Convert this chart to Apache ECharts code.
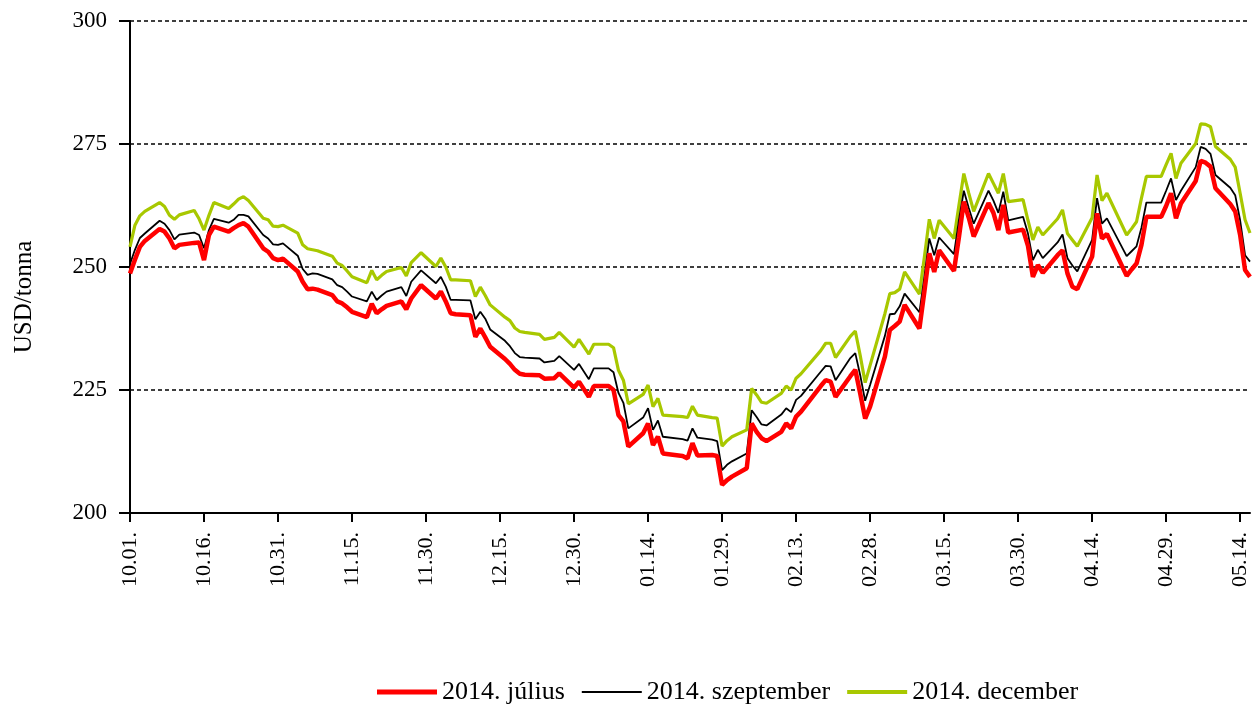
<!DOCTYPE html>
<html>
<head>
<meta charset="utf-8">
<script src="https://cdn.jsdelivr.net/npm/echarts@6/dist/echarts.min.js"></script>
<style>
  html, body { margin: 0; padding: 0; background: #fff; }
  #chart { width: 1252px; height: 704px; }
</style>
</head>
<body>
<div id="chart"></div>
<script>
const startDay = [2013, 9, 1]
const endDay = [2014, 4, 16]

const seriesNames = ['2014. július', '2014. szeptember', '2014. december']

// one value per weekday (Mon-Fri), null = exchange holiday
const julius = [
  248.7, 251.5, 254.1, 255.3,
  257.7, 257.2, 255.8, 253.8, 254.5,
  254.9, 255.0, 251.4, 256.5, 258.2,
  257.2, 257.9, 258.5, 258.9, 258.2,
  253.8, 253.1, 251.8, 251.4, 251.7,
  249.1, 247.0, 245.5, 245.6, 245.4,
  244.3, 243.0, 242.6, 241.8, 240.9,
  239.8, 242.5, 240.6, 241.4, 242.1,
  243.0, 241.4, 243.6, null, 246.3,
  243.6, 245.0, 243.0, 240.6, 240.4,
  240.2, 235.8, 237.5, 235.7, 233.8,
  231.3, 230.3, 229.1, 228.3, 228.1,
  228.0, 227.3, null, 227.4, 228.4,
  225.5, 226.7, null, 223.6, 225.8,
  225.8, 225.0, 219.9, 218.6, 213.5,
  216.2, 218.2, 213.8, 215.5, 212.1,
  null, 211.6, 211.1, 214.2, 211.7,
  211.8, 211.6, 205.7, 206.7, 207.4,
  209.1, 218.2, 216.5, 215.2, 214.6,
  216.5, 218.2, 217.2, 219.6, 220.6,
  null, 225.8, 227.0, 226.7, 223.6,
  227.8, 229.1, 224.3, 219.2, 221.6,
  231.8, 237.2, 238.0, 238.9, 242.3,
  237.5, 245.0, 252.8, 249.0, 253.4,
  249.2, 256.0, 263.3, 260.0, 256.2,
  263.0, 261.0, 257.5, 262.6, 257.0,
  257.6, 254.3, 248.0, 250.4, 248.8,
  252.4, 253.4, 248.7, 246.0, 245.5,
  252.1, 260.9, 255.8, 256.7, null,
  248.2, 249.5, 250.7, 254.5, 260.2,
  260.2, 262.4, 265.0, 259.9, 262.9,
  267.5, 271.6, 271.2, 270.4, 266.0,
  262.8, 261.3, 256.5, 249.4, 248.0
]

const szeptember = [
  250.6, 253.5, 255.9, 256.8,
  259.4, 258.8, 257.5, 255.6, 256.6,
  257.0, 256.5, 253.8, 257.5, 259.8,
  259.0, 259.6, 260.6, 260.6, 260.3,
  256.5, 255.8, 254.6, 254.5, 254.8,
  252.3, 249.6, 248.4, 248.7, 248.6,
  247.5, 246.3, 245.9, 245.0, 244.0,
  243.0, 245.0, 243.3, 244.2, 245.0,
  245.9, 244.1, 247.0, null, 249.3,
  246.7, 248.0, 246.0, 243.3, 243.3,
  243.2, 239.4, 240.9, 239.5, 237.3,
  235.0, 233.9, 232.5, 231.7, 231.6,
  231.4, 230.6, null, 230.9, 231.9,
  229.1, 230.3, null, 227.2, 229.4,
  229.4, 228.6, 224.4, 222.4, 217.2,
  219.4, 221.3, 216.9, 218.8, 215.5,
  null, 215.0, 214.7, 217.2, 215.3,
  214.9, 214.6, 208.7, 209.8, 210.5,
  212.1, 220.9, 219.5, 218.0, 217.8,
  220.0, 221.3, 220.5, 223.0, 223.8,
  null, 228.7, 229.9, 229.8, 227.0,
  231.5, 232.5, 228.0, 222.8, 226.0,
  236.0, 240.4, 240.5, 242.0, 244.6,
  240.8, 248.0, 255.8, 252.4, 256.0,
  252.6, 259.5, 265.5, 262.0, 258.8,
  265.5, 263.5, 261.0, 265.3, 259.5,
  260.2, 256.8, 251.4, 253.5, 251.8,
  255.0, 256.6, 251.8, 250.3, 249.1,
  255.5, 264.0, 258.8, 259.9, null,
  252.2, 253.2, 254.2, 258.0, 263.1,
  263.1, 265.5, 268.0, 263.6, 265.5,
  270.3, 274.4, 274.0, 273.0, 268.7,
  266.1, 264.6, 259.5, 252.4, 251.1
]

const december = [
  254.1, 258.5, 260.4, 261.3,
  263.1, 262.3, 260.5, 259.7, 260.6,
  261.5, 259.8, 257.5, 260.5, 263.1,
  261.9, 262.8, 263.8, 264.3, 263.5,
  259.9, 259.6, 258.3, 258.2, 258.5,
  256.9, 254.5, 253.7, 253.5, 253.3,
  252.2, 250.8, 250.3, 249.2, 248.0,
  246.8, 249.3, 247.4, 248.3, 249.1,
  249.9, 248.2, 250.9, null, 252.9,
  250.1, 251.8, 250.0, 247.4, 247.4,
  247.2, 244.0, 245.9, 244.2, 242.3,
  239.8, 239.1, 237.6, 236.9, 236.7,
  236.3, 235.3, null, 235.7, 236.7,
  233.7, 235.3, null, 232.3, 234.3,
  234.3, 233.6, 229.0, 227.0, 222.2,
  224.1, 226.0, 221.6, 223.3, 219.9,
  null, 219.6, 219.4, 221.7, 219.9,
  219.4, 219.3, 213.6, 214.7, 215.5,
  216.9, 225.3, 224.0, 222.5, 222.3,
  224.3, 225.8, 225.0, 227.4, 228.3,
  null, 233.0, 234.5, 234.5, 231.6,
  235.9, 237.0, 232.0, 226.5, 230.0,
  240.5, 244.6, 244.8, 245.5, 249.0,
  244.5, 252.0, 259.7, 255.8, 259.5,
  255.8, 262.5, 269.0, 265.0, 261.3,
  269.0, 267.0, 265.0, 269.0, 263.3,
  263.7, 259.5, 255.5, 258.1, 256.5,
  259.8, 261.6, 256.8, 255.5, 254.2,
  260.0, 268.7, 263.5, 265.0, null,
  256.5, 257.8, 259.2, 264.0, 268.4,
  268.4, 270.8, 273.1, 268.0, 271.1,
  275.1, 279.1, 279.0, 278.5, 274.5,
  271.9, 270.3, 265.0, 259.6, 256.9
]

const yMin = 200
const yMax = 300
const yStep = 25
const labelEvery = 15

const font = '"Liberation Serif", "Times New Roman", serif'
const colors = ['#ff0000', '#000000', '#a8c800']
const widths = [4.5, 1.8, 3.2]

// calendar days on the x axis, weekends left empty
const days = []
const isWeekday = []
let t = Date.UTC(startDay[0], startDay[1], startDay[2])
const tEnd = Date.UTC(endDay[0], endDay[1], endDay[2])
while (t <= tEnd) {
  const d = new Date(t)
  const mm = String(d.getUTCMonth() + 1).padStart(2, '0')
  const dd = String(d.getUTCDate()).padStart(2, '0')
  days.push(mm + '.' + dd + '.')
  const wd = d.getUTCDay()
  isWeekday.push(wd !== 0 && wd !== 6)
  t += 86400000
}

function spread (values) {
  const out = []
  let k = 0
  for (let i = 0; i < days.length; i++) {
    out.push(isWeekday[i] ? values[k++] : null)
  }
  return out
}

// plain line icons in the legend, thickness like the series
const legendIcons = [
  'path://M0,0H60V5H0Z',
  'path://M0,0H60V2H0Z',
  'path://M0,0H60V4H0Z'
]

const myChart = echarts.init(document.getElementById('chart'))
const option = {
  animation: false,
  backgroundColor: '#fff',
  color: colors,
  grid: {
    left: 130,
    right: 2,
    top: 21,
    bottom: 191,
    containLabel: false
  },
  legend: {
    left: 372,
    top: 674,
    itemWidth: 60,
    itemHeight: 14,
    itemGap: 17,
    symbolKeepAspect: true,
    textStyle: { fontFamily: font, fontSize: 26, color: '#000' },
    data: seriesNames.map((name, i) => ({
      name: name,
      icon: legendIcons[i],
      itemStyle: { color: colors[i] }
    }))
  },
  graphic: [
    {
      type: 'text',
      x: 24,
      y: 297,
      rotation: Math.PI / 2,
      style: {
        text: 'USD/tonna',
        font: '25px ' + font,
        fill: '#000',
        align: 'center',
        verticalAlign: 'middle'
      }
    }
  ],
  xAxis: {
    type: 'category',
    boundaryGap: false,
    data: days,
    axisLine: { lineStyle: { color: '#000', width: 2 } },
    axisTick: {
      interval: labelEvery - 1,
      length: 9,
      lineStyle: { color: '#000', width: 2 }
    },
    axisLabel: {
      interval: labelEvery - 1,
      rotate: 90,
      margin: 19,
      color: '#000',
      fontFamily: font,
      fontSize: 22
    },
    splitLine: { show: false }
  },
  yAxis: {
    type: 'value',
    min: yMin,
    max: yMax,
    interval: yStep,
    axisLine: { show: true, lineStyle: { color: '#000', width: 2 } },
    axisTick: { show: true, length: 11, lineStyle: { color: '#000', width: 2 } },
    axisLabel: {
      margin: 23,
      color: '#000',
      fontFamily: font,
      fontSize: 23
    },
    splitLine: {
      show: true,
      lineStyle: { color: '#000', width: 1.5, type: [4, 3] }
    }
  },
  series: [julius, szeptember, december].map((values, i) => ({
    name: seriesNames[i],
    type: 'line',
    data: spread(values),
    connectNulls: true,
    symbol: 'none',
    z: 4 - i,
    lineStyle: { width: widths[i], color: colors[i] }
  }))
}
myChart.setOption(option)
</script>
</body>
</html>
